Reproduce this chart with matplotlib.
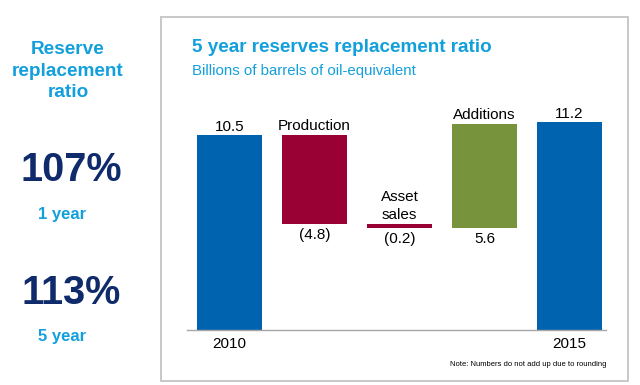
import numpy as np
import matplotlib
matplotlib.use("Agg")
import matplotlib.pyplot as plt
from matplotlib.patches import Rectangle

plt.rcParams['font.family'] = ['Liberation Sans', 'DejaVu Sans']

# waterfall data (billions of barrels)
labels = ['2010', 'Production', 'Asset\nsales', 'Additions', '2015']
values = [10.5, -4.8, -0.2, 5.6, 11.2]
value_text = ['10.5', '(4.8)', '(0.2)', '5.6', '11.2']
kinds = ['total', 'delta', 'delta', 'delta', 'total']
colors = ['#0063AF', '#990033', '#990033', '#77933C', '#0063AF']

side_ratios = ['107%', '113%']
side_periods = ['1 year', '5 year']

light_blue = '#12A0DC'
navy = '#0F2B6B'

fig = plt.figure(figsize=(6.4, 3.85), dpi=100)

# panel frame
fig.patches.append(Rectangle((161 / 640, 1 - 381 / 385), 467 / 640, 364 / 385,
                             transform=fig.transFigure, fill=False,
                             edgecolor='#C8C8C8', lw=1.4))

ax = fig.add_axes([187 / 640, 55 / 385, 419 / 640, 241.4 / 385])

# compute floating bar bottoms
bottoms, heights = [], []
running = 0.0
for v, k in zip(values, kinds):
    if k == 'total':
        bottoms.append(0)
        heights.append(v)
        running = v
    else:
        if v < 0:
            bottoms.append(running + v)
            heights.append(-v)
        else:
            bottoms.append(running)
            heights.append(v)
        running += v

x = np.arange(len(values))
ax.bar(x, heights, bottom=bottoms, width=0.77, color=colors, edgecolor='none')

ax.set_xlim(-0.5, 4.43)
ax.set_ylim(0, 13)
for s in ['top', 'right', 'left']:
    ax.spines[s].set_visible(False)
ax.spines['bottom'].set_color('#A6A6A6')
ax.spines['bottom'].set_linewidth(1.0)
ax.set_yticks([])
ax.set_xticks([0, 4])
ax.set_xticklabels([labels[0], labels[4]], fontsize=11)
ax.tick_params(axis='x', length=0, pad=5)

# value and category labels
for i in range(len(values)):
    top = bottoms[i] + heights[i]
    if kinds[i] == 'total':
        ax.text(x[i], top + 0.05, value_text[i], ha='center', va='bottom', fontsize=11)
    else:
        ax.text(x[i], bottoms[i] - 0.2, value_text[i], ha='center', va='top', fontsize=11)
        ax.text(x[i], top + 0.1, labels[i], ha='center', va='bottom', fontsize=11,
                linespacing=1.35)

# titles
fig.text(192 / 640, 1 - 48 / 385, '5 year reserves replacement ratio', color=light_blue,
         fontsize=13.6, fontweight='bold', va='center', ha='left')
fig.text(192 / 640, 1 - 71 / 385, 'Billions of barrels of oil-equivalent', color=light_blue,
         fontsize=10.8, va='center', ha='left')
fig.text(606 / 640, 1 - 364 / 385, 'Note: Numbers do not add up due to rounding',
         fontsize=5.5, ha='right', va='center')

# left side summary
fig.text(68 / 640, 1 - 71 / 385, 'Reserve\nreplacement\nratio', color=light_blue,
         fontsize=13.7, fontweight='bold', ha='center', va='center', linespacing=1.38)
for ratio, period, yr, yp in zip(side_ratios, side_periods, [170, 293], [215, 337]):
    fig.text(71 / 640, 1 - yr / 385, ratio, color=navy, fontsize=28.5,
             fontweight='bold', ha='center', va='center')
    fig.text(62 / 640, 1 - yp / 385, period, color=light_blue, fontsize=12,
             fontweight='bold', ha='center', va='center')

fig.savefig('out.png', dpi=100)
